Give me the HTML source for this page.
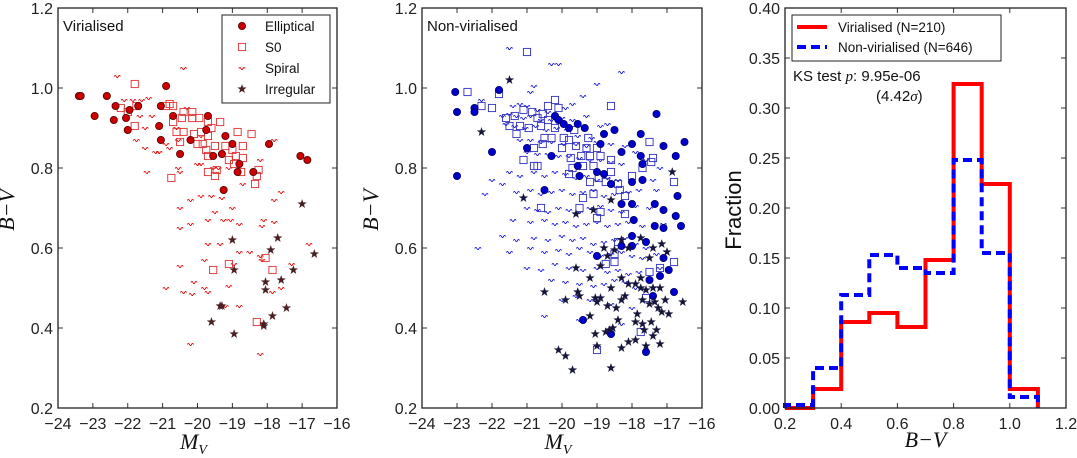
<!DOCTYPE html>
<html><head><meta charset="utf-8">
<style>
html,body{margin:0;padding:0;background:#fff;}
svg{display:block;font-family:"Liberation Sans",sans-serif;}
.tick{font-size:16px;fill:#222;}
.leg{font-size:13.5px;fill:#111;}
</style></head>
<body>
<svg id="fig" width="1077" height="458" viewBox="0 0 1077 458" xmlns="http://www.w3.org/2000/svg"></svg>
<script>
// ===== DATA =====
const xTicksMag = [-24,-23,-22,-21,-20,-19,-18,-17,-16];
const yTicksBV = [0.2,0.4,0.6,0.8,1.0,1.2];
const xTicksHist = [0.2,0.4,0.6,0.8,1.0,1.2];
const yTicksFrac = [0.00,0.05,0.10,0.15,0.20,0.25,0.30,0.35,0.40];

// Virialised panel
const virEllMV = [-23.4,-23.35,-22.95,-22.6,-22.35,-22.4,-22.05,-21.95,-22.0,-21.7,-20.9,-21.1,-21.05,-21.05,-20.7,-20.5,-20.2,-19.7,-19.75,-19.55,-19.3,-19.2,-19.0,-18.8,-18.85,-18.4,-17.95,-19.25,-17.05,-16.85];
const virEllBV = [0.98,0.98,0.93,0.98,0.955,0.92,0.925,0.945,0.895,0.955,1.005,0.905,0.87,0.955,0.93,0.835,0.87,0.93,0.895,0.83,0.835,0.88,0.86,0.81,0.79,0.79,0.86,0.745,0.83,0.82];
const virS0MV = [-21.8,-22.2,-22.0,-21.75,-21.8,-20.8,-20.7,-20.9,-20.7,-20.4,-20.45,-20.15,-20.15,-19.95,-19.7,-19.35,-19.6,-20.6,-20.4,-20.1,-19.9,-19.7,-18.85,-18.45,-20.5,-20.0,-19.85,-19.5,-19.2,-18.7,-19.75,-19.7,-19.0,-18.9,-18.7,-19.1,-18.95,-20.75,-19.7,-19.45,-19.5,-18.75,-18.25,-18.3,-18.35,-19.1,-19.55,-18.05,-17.85,-18.3];
const virS0BV = [1.01,0.95,0.94,0.955,0.905,0.96,0.955,0.955,0.915,0.94,0.925,0.94,0.925,0.925,0.915,0.915,0.9,0.89,0.89,0.885,0.89,0.88,0.89,0.885,0.865,0.86,0.86,0.855,0.855,0.855,0.845,0.83,0.845,0.83,0.825,0.82,0.81,0.775,0.79,0.795,0.78,0.79,0.795,0.78,0.76,0.56,0.545,0.575,0.545,0.415];
const virSpMV = [-22.3,-20.4,-21.85,-21.6,-21.4,-22.1,-21.65,-21.3,-21.5,-21.75,-21.5,-21.2,-21.1,-20.8,-20.9,-20.55,-20.55,-20.5,-21.45,-20.0,-19.9,-19.55,-19.4,-19.1,-18.7,-18.2,-17.8,-17.6,-17.8,-19.3,-19.6,-19.9,-20.2,-20.5,-19.5,-19.0,-20.2,-20.5,-19.7,-19.25,-19.05,-18.8,-18.1,-18.15,-17.8,-19.7,-19.35,-18.8,-18.5,-18.2,-17.3,-16.8,-20.5,-19.8,-18.95,-19.8,-19.7,-20.1,-19.1,-20.9,-20.4,-20.15,-18.8,-19.2,-18.15,-17.85,-17.6,-20.2,-18.2,-20.3,-19.9,-20.6];
const virSpBV = [1.03,1.05,0.97,0.97,0.975,0.97,0.93,0.93,0.9,0.87,0.85,0.84,0.84,0.85,0.86,0.87,0.8,0.79,0.79,0.81,0.81,0.8,0.8,0.8,0.76,0.82,0.87,0.74,0.72,0.725,0.73,0.73,0.72,0.7,0.69,0.7,0.66,0.65,0.67,0.67,0.67,0.66,0.67,0.655,0.665,0.61,0.61,0.59,0.59,0.58,0.56,0.61,0.555,0.57,0.56,0.5,0.49,0.515,0.505,0.5,0.49,0.485,0.455,0.455,0.57,0.49,0.5,0.36,0.335,0.95,0.88,0.9];
const virIrrMV = [-17.0,-17.7,-17.9,-16.65,-18.95,-17.25,-17.6,-18.05,-18.05,-19.0,-19.3,-19.35,-17.45,-17.85,-19.6,-18.1,-18.1,-18.95];
const virIrrBV = [0.71,0.625,0.595,0.585,0.545,0.545,0.52,0.515,0.495,0.62,0.455,0.455,0.45,0.43,0.415,0.41,0.405,0.385];

// Non-virialised panel
const nonEllMV = [-23.05,-23.0,-23.0,-22.5,-22.5,-21.8,-22.0,-20.5,-21.0,-20.2,-20.1,-19.95,-19.55,-19.35,-19.55,-19.5,-19.0,-18.8,-18.5,-18.8,-18.6,-18.3,-18.3,-18.0,-18.0,-18.0,-17.95,-17.75,-17.75,-17.7,-17.7,-17.3,-17.35,-17.1,-17.1,-16.95,-16.75,-16.7,-16.75,-16.6,-16.5,-18.0,-18.0,-17.5,-17.2,-17.1,-17.4,-16.8,-19.4,-18.6,-17.6,-19.0,-18.3,-17.6,-17.35,-17.1,-20.3,-19.8,-18.9];
const nonEllBV = [0.99,0.94,0.78,0.95,0.94,0.995,0.84,0.745,0.85,0.93,0.92,0.91,0.91,0.9,0.805,0.78,0.79,0.885,0.895,0.785,0.76,0.84,0.71,0.86,0.765,0.71,0.67,0.885,0.83,0.81,0.77,0.935,0.71,0.855,0.695,0.545,0.83,0.73,0.68,0.655,0.865,0.605,0.63,0.52,0.53,0.575,0.48,0.49,0.42,0.385,0.34,0.58,0.605,0.615,0.655,0.65,0.83,0.9,0.86];
const nonS0MV = [-21.0,-22.7,-21.8,-22.3,-22.0,-20.2,-20.4,-20.1,-18.6,-21.1,-20.85,-20.55,-20.7,-20.4,-21.6,-21.35,-21.5,-21.2,-20.95,-20.6,-20.2,-19.65,-19.25,-21.3,-20.5,-20.3,-19.95,-19.8,-20.55,-20.8,-20.0,-19.6,-19.3,-19.0,-17.5,-19.75,-19.45,-19.2,-18.9,-18.6,-17.4,-17.45,-21.1,-20.8,-20.7,-19.7,-19.4,-19.1,-18.6,-18.0,-17.7,-19.8,-19.2,-18.95,-18.75,-18.4,-18.35,-18.2,-19.1,-19.4,-19.5,-20.6,-18.9,-19.0,-18.2,-16.8,-18.4,-18.5,-18.5,-18.75,-17.5,-17.2,-16.8,-17.6,-17.75,-19.0];
const nonS0BV = [1.09,0.99,0.985,0.955,0.95,0.97,0.955,0.95,0.955,0.945,0.94,0.935,0.925,0.92,0.925,0.93,0.905,0.905,0.9,0.905,0.9,0.895,0.875,0.885,0.875,0.875,0.875,0.87,0.86,0.85,0.85,0.855,0.85,0.85,0.865,0.825,0.83,0.83,0.83,0.82,0.825,0.815,0.82,0.805,0.805,0.8,0.805,0.805,0.79,0.78,0.8,0.785,0.765,0.775,0.765,0.76,0.745,0.73,0.735,0.725,0.7,0.7,0.69,0.675,0.685,0.765,0.615,0.585,0.565,0.56,0.54,0.55,0.565,0.475,0.39,0.345];
const nonSpMV = [-21.5,-20.3,-20.1,-18.3,-19.0,-20.8,-20.9,-22.3,-19.4,-19.7,-21.4,-21.2,-21.0,-20.7,-20.4,-19.9,-21.7,-21.5,-21.3,-21.1,-20.9,-20.6,-20.3,-20.0,-19.7,-19.3,-18.9,-18.7,-21.6,-21.35,-21.05,-20.75,-20.45,-20.15,-19.85,-19.55,-19.15,-18.5,-21.2,-20.9,-20.6,-20.3,-19.95,-19.6,-19.3,-19.0,-18.6,-18.2,-17.9,-21.0,-20.7,-20.4,-20.1,-19.8,-19.5,-19.2,-18.9,-18.6,-18.3,-17.6,-17.2,-22.0,-21.5,-21.2,-20.8,-20.5,-20.2,-19.9,-19.6,-19.3,-19.0,-18.7,-18.4,-18.0,-17.4,-22.2,-21.7,-21.3,-20.9,-20.6,-20.3,-20.0,-19.7,-19.4,-19.1,-18.8,-18.5,-18.1,-17.8,-17.3,-21.0,-20.7,-20.4,-20.1,-19.8,-19.5,-19.2,-18.9,-18.6,-18.3,-17.9,-17.5,-21.4,-20.9,-20.5,-20.2,-19.9,-19.6,-19.3,-19.0,-18.7,-18.4,-18.1,-17.7,-17.1,-22.4,-21.7,-21.3,-20.8,-20.4,-20.0,-19.7,-19.4,-19.1,-18.8,-18.5,-18.2,-17.9,-17.6,-21.5,-20.9,-20.5,-20.1,-19.8,-19.5,-19.2,-18.9,-18.6,-18.3,-18.0,-17.7,-17.3,-21.0,-20.6,-20.2,-19.8,-19.4,-19.0,-18.7,-18.4,-18.1,-17.8,-17.2,-20.3,-19.9,-19.5,-19.1,-18.8,-18.5,-18.2,-17.9,-20.0,-19.6,-19.2,-18.6,-18.0,-20.5,-19.5,-18.3];
const nonSpBV = [1.1,1.06,1.06,1.04,1.01,1.005,0.99,0.97,0.98,0.96,0.955,0.96,0.955,0.945,0.94,0.95,0.93,0.935,0.93,0.925,0.93,0.92,0.92,0.925,0.92,0.93,0.905,0.91,0.91,0.905,0.9,0.905,0.895,0.9,0.895,0.88,0.875,0.9,0.87,0.87,0.865,0.865,0.86,0.86,0.855,0.865,0.86,0.855,0.84,0.84,0.835,0.835,0.83,0.83,0.825,0.82,0.82,0.815,0.81,0.82,0.8,0.77,0.79,0.78,0.79,0.78,0.79,0.785,0.775,0.78,0.77,0.775,0.77,0.765,0.77,0.735,0.76,0.74,0.745,0.735,0.74,0.745,0.735,0.74,0.745,0.73,0.735,0.74,0.745,0.745,0.7,0.695,0.69,0.7,0.695,0.69,0.7,0.705,0.695,0.69,0.705,0.7,0.67,0.665,0.67,0.66,0.665,0.655,0.66,0.665,0.655,0.66,0.665,0.655,0.66,0.6,0.63,0.62,0.625,0.62,0.63,0.62,0.625,0.61,0.615,0.62,0.625,0.61,0.6,0.59,0.6,0.59,0.595,0.585,0.6,0.59,0.58,0.585,0.59,0.58,0.575,0.585,0.55,0.545,0.56,0.55,0.545,0.55,0.54,0.545,0.535,0.54,0.55,0.52,0.515,0.51,0.505,0.51,0.52,0.515,0.5,0.47,0.48,0.47,0.46,0.45,0.43,0.42,0.41];
const nonIrrMV = [-21.5,-22.3,-21.1,-16.85,-19.6,-19.1,-18.6,-18.3,-18.1,-17.75,-17.4,-17.15,-17.0,-17.5,-18.8,-18.7,-18.5,-18.9,-18.6,-18.3,-18.1,-17.9,-17.75,-17.6,-17.4,-17.2,-19.2,-19.6,-20.5,-19.55,-19.5,-19.05,-18.9,-19.0,-18.7,-18.45,-18.2,-18.3,-17.7,-17.5,-17.35,-17.25,-17.15,-17.05,-16.95,-16.55,-17.85,-17.9,-17.7,-17.45,-18.4,-18.55,-18.65,-18.75,-19.05,-19.0,-19.2,-18.3,-18.1,-17.9,-17.65,-17.4,-17.2,-17.3,-19.9,-20.1,-19.9,-19.7,-18.6,-17.6,-17.75];
const nonIrrBV = [1.02,0.89,0.725,0.79,0.685,0.695,0.72,0.62,0.6,0.625,0.6,0.61,0.59,0.575,0.6,0.58,0.595,0.555,0.5,0.525,0.51,0.51,0.5,0.495,0.5,0.5,0.525,0.55,0.49,0.49,0.48,0.475,0.475,0.465,0.455,0.45,0.48,0.47,0.47,0.46,0.465,0.45,0.44,0.47,0.435,0.465,0.435,0.415,0.41,0.415,0.42,0.4,0.395,0.39,0.385,0.355,0.43,0.35,0.365,0.37,0.395,0.38,0.36,0.395,0.47,0.345,0.33,0.295,0.3,0.355,0.525];

// Histogram
const binEdges = [0.2,0.3,0.4,0.5,0.6,0.7,0.8,0.9,1.0,1.1];
const virFrac = [0.0,0.019,0.086,0.095,0.081,0.148,0.324,0.224,0.019];
const nonFrac = [0.003,0.04,0.113,0.153,0.14,0.135,0.248,0.155,0.011];

// ===== DRAWING =====
const NS = "http://www.w3.org/2000/svg";
const svg = document.getElementById('fig');
function mk(tag, attrs, parent){ const e=document.createElementNS(NS,tag); for(const k in attrs) e.setAttribute(k,attrs[k]); (parent||svg).appendChild(e); return e; }
function lin(d0,d1,r0,r1){ return v => r0 + (v-d0)/(d1-d0)*(r1-r0); }

const TOP=8, BOT=408;
function axes(name, L, R, xs, ys, xt, yt, xfmt, yfmt){
  const g = mk('g',{});
  
  
  xt.forEach(v=>{ const x=xs(v);
    mk('line',{x1:x,x2:x,y1:BOT,y2:BOT-5,stroke:'#333','stroke-width':1},g);
    mk('line',{x1:x,x2:x,y1:TOP,y2:TOP+5,stroke:'#333','stroke-width':1},g);
    const t=mk('text',{x:x,y:BOT+21,'text-anchor':'middle',class:'tick'},g); t.textContent=xfmt(v);
    
    
  });
  yt.forEach(v=>{ const y=ys(v);
    mk('line',{x1:L,x2:L+5,y1:y,y2:y,stroke:'#333','stroke-width':1},g);
    mk('line',{x1:R,x2:R-5,y1:y,y2:y,stroke:'#333','stroke-width':1},g);
    const t=mk('text',{x:L-5,y:y+6,'text-anchor':'end',class:'tick'},g); t.textContent=yfmt(v);
    
    
  });
  return g;
}
function frame(L,R,g){ mk('rect',{x:L,y:TOP,width:R-L,height:BOT-TOP,fill:'none',stroke:'#222','stroke-width':1.3},g); }

function circ(g,x,y,fill,edge){ const c=mk('circle',{cx:x,cy:y,r:3.6,fill:fill,stroke:edge,'stroke-width':0.8},g); return c; }
function sq(g,x,y,col){ return mk('rect',{x:x-3.6,y:y-3.6,width:7.2,height:7.2,fill:'none',stroke:col,'stroke-width':0.9},g); }
function spiral(g,x,y,col){ return mk('path',{d:`M${x-3.2},${y+0.5} q1.1,-2.2 2.1,0 t2.1,0 t2.1,0`,fill:'none',stroke:col,'stroke-width':0.9},g); }
function star(g,x,y,col){ let p=[]; for(let i=0;i<10;i++){ const a=-Math.PI/2+i*Math.PI/5; const r=i%2?1.8:4.5; p.push((x+r*Math.cos(a)).toFixed(2)+','+(y+r*Math.sin(a)).toFixed(2)); } return mk('polygon',{points:p.join(' '),fill:col,stroke:col,'stroke-width':0.3},g); }

function scatterPanel(name,L,R,sets,colors,label,withLegend){
  const xs=lin(-24,-16,L,R), ys=lin(0.2,1.2,BOT,TOP);
  const g=axes(name,L,R,xs,ys,xTicksMag,yTicksBV,v=>'\u2212'+Math.abs(v),v=>v.toFixed(1));
  const pg=mk('g',{},g);
  
  
  sets.sp[0].forEach((m,i)=>{ const e=spiral(pg,xs(m),ys(sets.sp[1][i]),colors.sp);
    
     });
  sets.s0[0].forEach((m,i)=>{ const e=sq(pg,xs(m),ys(sets.s0[1][i]),colors.s0);
    
     });
  sets.ell[0].forEach((m,i)=>{ const e=circ(pg,xs(m),ys(sets.ell[1][i]),colors.ell,colors.edge);
    
     });
  sets.irr[0].forEach((m,i)=>{ const e=star(pg,xs(m),ys(sets.irr[1][i]),colors.irr);
    
     });
  frame(L,R,g);
  const t=mk('text',{x:L+5,y:31,'font-size':15,fill:'#111'},g); t.textContent=label;
  
  
  const yl=mk('text',{x:0,y:0,'font-family':'"Liberation Serif",serif','font-style':'italic','font-size':22,fill:'#111','text-anchor':'middle',transform:`translate(${L-44},210) rotate(-90)`},g);
  yl.textContent='B\u2212V';
  
  
  const xl=mk('text',{x:(L+R)/2-4,y:449,'font-family':'"Liberation Serif",serif','font-style':'italic','font-size':22,fill:'#111','text-anchor':'middle'},g);
  xl.innerHTML='M<tspan font-size="14" dy="5">V</tspan>';
  
  
  if(withLegend){
    const lg=mk('g',{},g);
    
    
    mk('rect',{x:222,y:15,width:108,height:88,fill:'#fff',stroke:'#222','stroke-width':1},lg);
    const names=['Elliptical','S0','Spiral','Irregular'];
    names.forEach((n,i)=>{ const y=26+i*21;
      if(i==0) circ(lg,242,y,colors.ell,colors.edge);
      if(i==1) sq(lg,242,y,colors.s0);
      if(i==2) spiral(lg,242,y,colors.sp);
      if(i==3) star(lg,242,y,colors.irr);
      const t=mk('text',{x:265,y:y+5,class:'leg'},lg); t.textContent=n;
      
      
    });
  }
}

scatterPanel('virialised-panel',58,337,
  {ell:[virEllMV,virEllBV],s0:[virS0MV,virS0BV],sp:[virSpMV,virSpBV],irr:[virIrrMV,virIrrBV]},
  {ell:'#cc0000',edge:'#550000',s0:'#e03030',sp:'#e00000',irr:'#4a1f22'},'Virialised',true);
scatterPanel('non-virialised-panel',422,702,
  {ell:[nonEllMV,nonEllBV],s0:[nonS0MV,nonS0BV],sp:[nonSpMV,nonSpBV],irr:[nonIrrMV,nonIrrBV]},
  {ell:'#0000cc',edge:'#000066',s0:'#3030c0',sp:'#1010dd',irr:'#16163a'},'Non-virialised',false);

// Histogram panel
(function(){
  const L=785,R=1066;
  const xs=lin(0.2,1.2,L,R), ys=lin(0,0.4,BOT,TOP);
  const g=axes('histogram-panel',L,R,xs,ys,xTicksHist,yTicksFrac,v=>v.toFixed(1),v=>v.toFixed(2));
  function stepPath(vals){
    let d=`M${xs(binEdges[0])},${ys(0)}`;
    vals.forEach((v,i)=>{ d+=` L${xs(binEdges[i])},${ys(v)} L${xs(binEdges[i+1])},${ys(v)}`; });
    d+=` L${xs(binEdges[binEdges.length-1])},${ys(0)}`;
    return d;
  }
  const r=mk('path',{d:stepPath(virFrac),fill:'none',stroke:'#ff0000','stroke-width':4},g);
  
  
  const b=mk('path',{d:stepPath(nonFrac),fill:'none',stroke:'#0000ff','stroke-width':4,'stroke-dasharray':'9,5'},g);
  
  
  frame(L,R,g);
  const lg=mk('g',{},g);
  
  
  mk('rect',{x:792,y:15,width:209,height:46,fill:'#fff',stroke:'#222','stroke-width':1},lg);
  mk('line',{x1:797,x2:827,y1:27,y2:27,stroke:'#ff0000','stroke-width':4},lg);
  mk('line',{x1:797,x2:827,y1:47,y2:47,stroke:'#0000ff','stroke-width':4,'stroke-dasharray':'9,5'},lg);
  const t1=mk('text',{x:838,y:32,'font-size':13.5,fill:'#111'},lg); t1.textContent='Virialised (N=210)';
  
  
  const t2=mk('text',{x:838,y:52,'font-size':13.5,fill:'#111'},lg); t2.textContent='Non-virialised (N=646)';
  
  
  const ks=mk('text',{x:793,y:81,'font-size':15,fill:'#111'},g);
  ks.innerHTML='KS test <tspan font-family="Liberation Serif,serif" font-style="italic">p</tspan>: 9.95e-06';
  
  
  const sg=mk('text',{x:876,y:101,'font-size':15,fill:'#111'},g);
  sg.innerHTML='(4.42<tspan font-family="Liberation Serif,serif" font-style="italic">σ</tspan>)';
  
  
  const yl=mk('text',{x:0,y:0,'font-size':22,fill:'#111','text-anchor':'middle',transform:`translate(741,210) rotate(-90)`},g);
  yl.textContent='Fraction';
  
  
  const xl=mk('text',{x:(L+R)/2,y:447,'font-family':'"Liberation Serif",serif','font-style':'italic','font-size':22,fill:'#111','text-anchor':'middle'},g);
  xl.textContent='B\u2212V';
  
  
})();
</script>
</body></html>
